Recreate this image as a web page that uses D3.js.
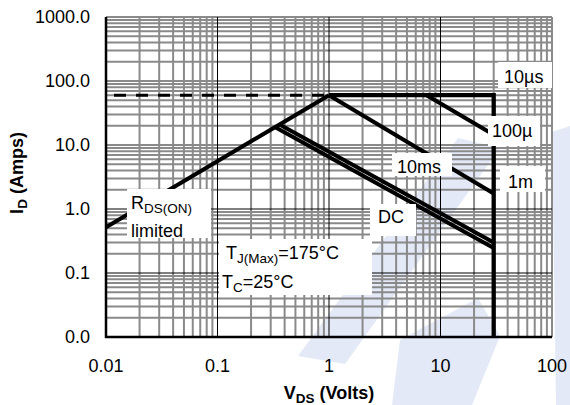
<!DOCTYPE html>
<html><head><meta charset="utf-8">
<script src="https://cdn.jsdelivr.net/npm/d3@7"></script>
<style>body{margin:0;background:#fff}svg{display:block}text{font-family:"Liberation Sans",Arial,sans-serif}</style>
</head><body>
<svg id="c" width="570" height="405"></svg>
<script>
// ---- data ----
const xTickValues = [0.01, 0.1, 1, 10, 100];
const xTickLabels = ["0.01", "0.1", "1", "10", "100"];
const yTickValues = [0.01, 0.1, 1, 10, 100, 1000];
const yTickLabels = ["0.0", "0.1", "1.0", "10.0", "100.0", "1000.0"];
const rdsLimit   = [[0.01, 0.52], [1, 60]];
const dashedLim  = [[0.01, 60], [1, 60]];
const pulse10us  = [[1, 60], [30, 60], [30, 0.01]];
const pulse100us = [[7.5, 60], [30, 14.5]];
const pulse1ms   = [[1, 60], [30, 1.75]];
const pulse10ms  = [[0.36, 21], [30, 0.30]];
const dcLine     = [[0.33, 19], [30, 0.245]];

const svg = d3.select("#c");
const L = 106, R = 552, T = 17, B = 337;
const x = d3.scaleLog().domain([0.01, 100]).range([L, R]);
const y = d3.scaleLog().domain([0.01, 1000]).range([B, T]);
const FS = 18, SUB = 13.5;

// watermark
const wm = svg.append("g").attr("fill", "#e3e9f6");
[
  [[552,132],[570,126],[570,405],[556,405]],
  [[298,356],[345,364],[500,148],[458,138]],
  [[392,405],[400,340],[478,298],[500,336],[472,405]]
].forEach(p => wm.append("polygon").attr("points", p.map(d => d.join(",")).join(" ")));

// grid
const g = svg.append("g");
const xDec = [0.01, 0.1, 1, 10];
const yDec = [0.01, 0.1, 1, 10, 100];
xDec.forEach(d => { for (let m = 2; m <= 9; m++) {
  g.append("line").attr("x1", x(d*m)).attr("x2", x(d*m)).attr("y1", T).attr("y2", B)
   .attr("stroke", "#8a8a8a").attr("stroke-width", 2);
}});
yDec.forEach(d => { for (let m = 2; m <= 9; m++) {
  g.append("line").attr("y1", y(d*m)).attr("y2", y(d*m)).attr("x1", L).attr("x2", R)
   .attr("stroke", "#8a8a8a").attr("stroke-width", 2);
}});
[10, 100].forEach(v => g.append("line").attr("y1", y(v)).attr("y2", y(v)).attr("x1", L).attr("x2", R)
   .attr("stroke", "#8a8a8a").attr("stroke-width", 2));
g.append("line").attr("x1", L).attr("x2", R).attr("y1", T).attr("y2", T).attr("stroke", "#8a8a8a").attr("stroke-width", 2);
g.append("line").attr("x1", R).attr("x2", R).attr("y1", T).attr("y2", B).attr("stroke", "#8a8a8a").attr("stroke-width", 2);
[0.1, 1, 10].forEach(v => g.append("line").attr("x1", x(v)).attr("x2", x(v)).attr("y1", T).attr("y2", B)
   .attr("stroke", "#000").attr("stroke-width", 1));
[0.1, 1].forEach(v => g.append("line").attr("y1", y(v)).attr("y2", y(v)).attr("x1", L).attr("x2", R)
   .attr("stroke", "#000").attr("stroke-width", 1));

// axes lines
svg.append("line").attr("x1", L).attr("x2", L).attr("y1", T).attr("y2", B+1).attr("stroke", "#000").attr("stroke-width", 2.5);
svg.append("line").attr("x1", L-1).attr("x2", R).attr("y1", B).attr("y2", B).attr("stroke", "#000").attr("stroke-width", 2.5);

// curves
const line = d3.line().x(d => x(d[0])).y(d => y(d[1]));
const cg = svg.append("g").attr("fill", "none").attr("stroke", "#000").attr("stroke-linejoin", "miter");
cg.append("path").datum(dashedLim).attr("d", line).attr("stroke-width", 3).attr("stroke-dasharray", "12,10").attr("stroke-dashoffset", 14);
[rdsLimit, pulse100us, pulse1ms, pulse10ms, dcLine].forEach(s =>
  cg.append("path").datum(s).attr("d", line).attr("stroke-width", 4));
cg.append("path").datum(pulse10us).attr("d", line).attr("stroke-width", 4.3);

// labels with white boxes
const lg = svg.append("g");
function box(x0, y0, w, h) { lg.append("rect").attr("x", x0).attr("y", y0).attr("width", w).attr("height", h).attr("fill", "#fff"); }
box(498, 62, 54, 26);
box(488, 116, 52, 30);
box(392, 153, 60, 23);
box(500, 166, 45, 26);
box(370, 204, 46, 32);
box(127, 189, 84, 49);
box(219, 239, 153, 56);

function txt(x0, y0, parts) {
  const t = lg.append("text").attr("x", x0).attr("y", y0).attr("font-size", FS).attr("fill", "#000");
  parts.forEach(p => {
    const s = t.append("tspan").text(p[0]);
    if (p[1] === "sub") s.attr("font-size", SUB).attr("dy", 4);
    if (p[1] === "up") s.attr("dy", -4);
  });
  return t;
}
txt(504, 83, [["10µs"]]);
txt(492, 137, [["100µ"]]);
txt(397, 173, [["10ms"]]);
txt(508, 188, [["1m"]]);
txt(378, 223, [["DC"]]);
txt(131, 209, [["R"], ["DS(ON)", "sub"]]);
txt(131, 237, [["limited"]]);
txt(226, 259, [["T"], ["J(Max)", "sub"], ["=175°C", "up"]]);
txt(222, 288, [["T"], ["C", "sub"], ["=25°C", "up"]]);

// ticks
const tk = svg.append("g").attr("font-size", FS).attr("fill", "#000");
yTickValues.forEach((v, i) => tk.append("text").attr("x", 90).attr("y", y(v)).attr("dy", "0.36em")
  .attr("text-anchor", "end").text(yTickLabels[i]));
xTickValues.forEach((v, i) => tk.append("text").attr("x", x(v)).attr("y", 372)
  .attr("text-anchor", "middle").text(xTickLabels[i]));

// axis titles
const xt = svg.append("text").attr("x", 329).attr("y", 399).attr("text-anchor", "middle")
  .attr("font-size", FS).attr("font-weight", "bold");
xt.append("tspan").text("V");
xt.append("tspan").text("DS").attr("font-size", SUB).attr("dy", 4);
xt.append("tspan").text(" (Volts)").attr("dy", -4);
const yt = svg.append("text").attr("transform", "translate(23,173) rotate(-90)").attr("text-anchor", "middle")
  .attr("font-size", FS).attr("font-weight", "bold");
yt.append("tspan").text("I");
yt.append("tspan").text("D").attr("font-size", SUB).attr("dy", 4);
yt.append("tspan").text(" (Amps)").attr("dy", -4);
</script>
</body></html>
